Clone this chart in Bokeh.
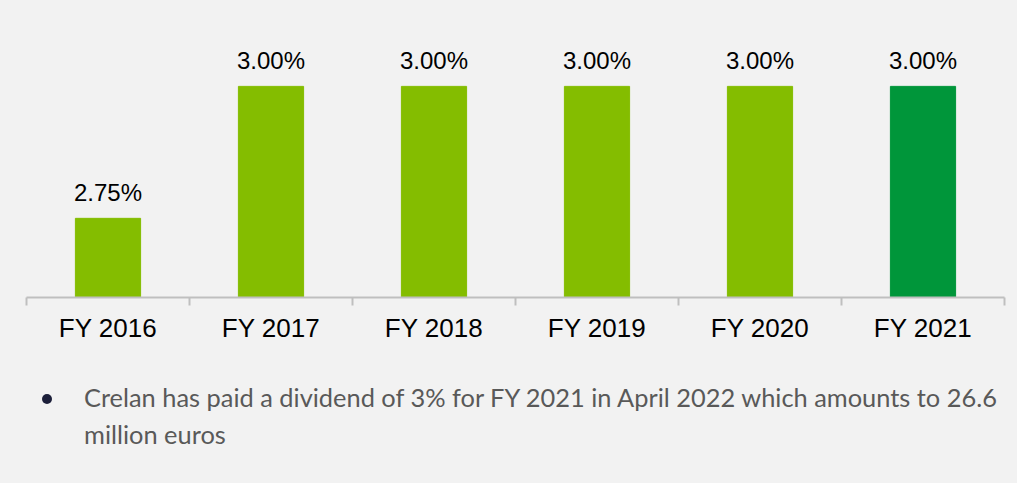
from bokeh.plotting import figure
from bokeh.models import Range1d, FixedTicker, ColumnDataSource, Div
from bokeh.layouts import column
from bokeh.core.properties import value
from bokeh.embed import file_html
from bokeh.resources import INLINE

categories = ["FY 2016", "FY 2017", "FY 2018", "FY 2019", "FY 2020", "FY 2021"]
dividend = [2.75, 3.00, 3.00, 3.00, 3.00, 3.00]
labels = ["2.75%", "3.00%", "3.00%", "3.00%", "3.00%", "3.00%"]
bar_colors = ["#84bd00", "#84bd00", "#84bd00", "#84bd00", "#84bd00", "#00963a"]
note_line1 = "Crelan has paid a dividend of 3% for FY 2021 in April 2022 which amounts to 26.6"
note_line2 = "million euros"

Y_MIN, Y_MAX = 2.6, 3.14
BG = "#f2f2f2"

centers = [i + 0.5 for i in range(len(categories))]
src = ColumnDataSource(dict(x=centers, top=dividend, label=labels, color=bar_colors))

p = figure(width=1017, height=360, output_backend="svg", toolbar_location=None,
           x_range=Range1d(0, len(categories)), y_range=Range1d(Y_MIN, Y_MAX),
           min_border_left=26, min_border_right=13, min_border_top=12, min_border_bottom=63)
p.background_fill_color = BG
p.border_fill_color = BG
p.outline_line_color = None
p.grid.visible = False
p.yaxis.visible = False

p.vbar(x="x", top="top", bottom=Y_MIN, width=0.4, color="color", source=src)
p.text(x="x", y="top", text="label", source=src, text_align="center", text_baseline="alphabetic",
       y_offset=-26, text_font=value("Liberation Sans"), text_font_size="24px", text_color="#000000")

ax = p.xaxis[0]
ax.ticker = FixedTicker(ticks=centers, minor_ticks=list(range(len(categories) + 1)))
ax.major_label_overrides = {c: cat for c, cat in zip(centers, categories)}
ax.major_tick_line_color = None
ax.major_tick_out = 0
ax.major_tick_in = 0
ax.minor_tick_line_color = "#bfbfbf"
ax.minor_tick_line_width = 2
ax.minor_tick_out = 8
ax.minor_tick_in = 0
ax.axis_line_color = "#bfbfbf"
ax.axis_line_width = 2
ax.major_label_standoff = 7
ax.major_label_text_font = "Liberation Sans"
ax.major_label_text_font_size = "26px"
ax.major_label_text_color = "#000000"

note_html = (
    '<div style="position:relative;width:1017px;height:123px;box-sizing:border-box;'
    'padding:19px 0 0 84px;font-family:Lato;font-size:25.4px;line-height:37px;'
    'color:#595959;white-space:nowrap;">'
    '<span style="position:absolute;left:42px;top:34px;width:10px;height:10px;'
    'border-radius:50%;background:#1c1f3a;"></span>'
    f'{note_line1}<br>{note_line2}</div>'
)
note = Div(text=note_html, width=1017, height=123, margin=0,
           styles={"background-color": BG})

layout = column(p, note, spacing=0, styles={"background-color": BG})
open("out.html", "w").write(file_html(layout, INLINE))
